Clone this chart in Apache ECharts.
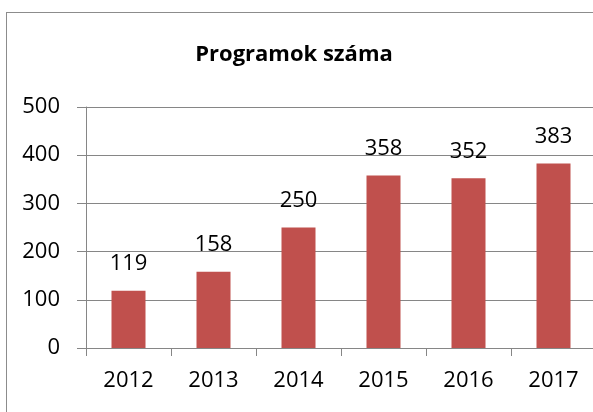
<!DOCTYPE html>
<html>
<head>
    <meta charset="utf-8">
    <script src="https://cdn.jsdelivr.net/npm/echarts@6/dist/echarts.min.js"></script>
    <style>
        html, body { margin: 0; padding: 0; overflow: hidden; background: #fff; }
        #frame { position: absolute; left: 6px; top: 12px; width: 600px; height: 420px;
                 border-left: 1px solid #8c8c8c; border-top: 1px solid #8c8c8c; }
        #chart { position: absolute; left: 0; top: 0; width: 596px; height: 412px; }
    </style>
</head>
<body>
    <div id="frame"></div>
    <div id="chart"></div>
<script type="text/javascript">
    // adatok
    var years = ['2012', '2013', '2014', '2015', '2016', '2017'];
    var programs = [119, 158, 250, 358, 352, 383];
    var yTicks = [0, 100, 200, 300, 400, 500];

    var font = 'Open Sans';
    var chart = echarts.init(document.getElementById('chart'));
    chart.setOption({
        animation: false,
        title: {
            text: 'Programok száma',
            left: 289, top: 39, textAlign: 'center',
            textStyle: { fontFamily: font, fontSize: 22, fontWeight: 'bold', color: '#000' }
        },
        grid: { left: 86, right: 0, top: 107, bottom: 64 },
        xAxis: {
            type: 'category',
            data: years,
            axisLine: { lineStyle: { color: '#868686', width: 1 } },
            axisTick: { show: true, length: 8, alignWithLabel: false, lineStyle: { color: '#868686' } },
            axisLabel: { margin: 22, fontFamily: font, fontSize: 22, color: '#000' }
        },
        yAxis: {
            type: 'value',
            min: yTicks[0], max: yTicks[yTicks.length - 1], interval: 100,
            axisLine: { show: true, lineStyle: { color: '#868686' } },
            axisTick: { show: true, length: 9, lineStyle: { color: '#868686' } },
            splitLine: { lineStyle: { color: '#868686', width: 1 } },
            axisLabel: { margin: 26, fontFamily: font, fontSize: 22, color: '#000' }
        },
        series: [{
            type: 'bar',
            data: programs,
            barWidth: '40%',
            itemStyle: { color: '#C0504D' },
            label: {
                show: true, position: 'top', distance: 16,
                fontFamily: font, fontSize: 22, color: '#000'
            }
        }]
    });
</script>
</body>
</html>
